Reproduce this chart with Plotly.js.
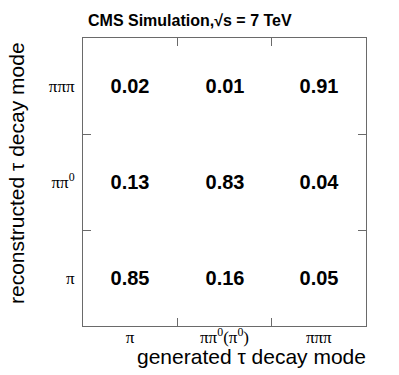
<!DOCTYPE html>
<html>
<head>
<meta charset="utf-8">
<script src="https://cdn.plot.ly/plotly-3.0.1.min.js"></script>
<style>
  html, body { margin: 0; padding: 0; background: #fff; }
  #graph { width: 399px; height: 375px; }
</style>
</head>
<body>
<div id="graph"></div>
<script>
// generated decay modes (x) and reconstructed decay modes (y, bottom to top)
const genModes = ['π', 'ππ<sup>0</sup>(π<sup>0</sup>)', 'πππ'];
const recoModes = ['π', 'ππ<sup>0</sup>', 'πππ'];

// fraction per reconstructed row
const recoPi = [0.85, 0.16, 0.05];
const recoPiPi0 = [0.13, 0.83, 0.04];
const recoPiPiPi = [0.02, 0.01, 0.91];

const zValues = [recoPi, recoPiPi0, recoPiPiPi];

const frameColor = '#6a6a6a';
const sans = 'Liberation Sans, Arial, sans-serif';

var trace = {
    type: 'heatmap',
    x: genModes,
    y: recoModes,
    z: zValues,
    colorscale: [[0, '#ffffff'], [1, '#ffffff']],
    showscale: false,
    hoverinfo: 'skip',
    texttemplate: '%{z:.2f}',
    textfont: { family: sans, size: 20, color: '#000', weight: 'bold' }
};

var axisCommon = {
    type: 'category',
    showline: true,
    linecolor: frameColor,
    linewidth: 1,
    mirror: 'allticks',
    ticks: 'inside',
    tickson: 'boundaries',
    ticklen: 8,
    tickcolor: frameColor,
    showgrid: false,
    zeroline: false,
    tickfont: { family: 'Liberation Serif, Times New Roman, serif', size: 17, color: '#000' },
    fixedrange: true
};

var layout = {
    width: 399,
    height: 375,
    margin: { l: 83, r: 33, t: 38, b: 49 },
    paper_bgcolor: '#fff',
    plot_bgcolor: '#fff',
    xaxis: Object.assign({}, axisCommon, { ticklabelstandoff: -4 }),
    yaxis: Object.assign({}, axisCommon, { ticklabelstandoff: 4 }),
    annotations: [
        {
            text: '<b>CMS Simulation,√s = 7 TeV</b>',
            xref: 'paper', yref: 'paper', x: 0.012, y: 1, yshift: 18,
            xanchor: 'left', yanchor: 'middle', showarrow: false,
            font: { family: sans, size: 16, color: '#000' }
        },
        {
            text: 'generated τ decay mode',
            xref: 'paper', yref: 'paper', x: 1, xshift: 2, y: 0, yshift: -30,
            xanchor: 'right', yanchor: 'middle', showarrow: false,
            font: { family: sans, size: 21, color: '#000' }
        },
        {
            text: 'reconstructed τ decay mode',
            xref: 'paper', yref: 'paper', x: 0, xshift: -67, y: 1, yshift: -2,
            xanchor: 'center', yanchor: 'top', textangle: -90, showarrow: false,
            font: { family: sans, size: 21, color: '#000' }
        }
    ]
};

Plotly.newPlot('graph', [trace], layout, { displayModeBar: false, staticPlot: true });
</script>
</body>
</html>
